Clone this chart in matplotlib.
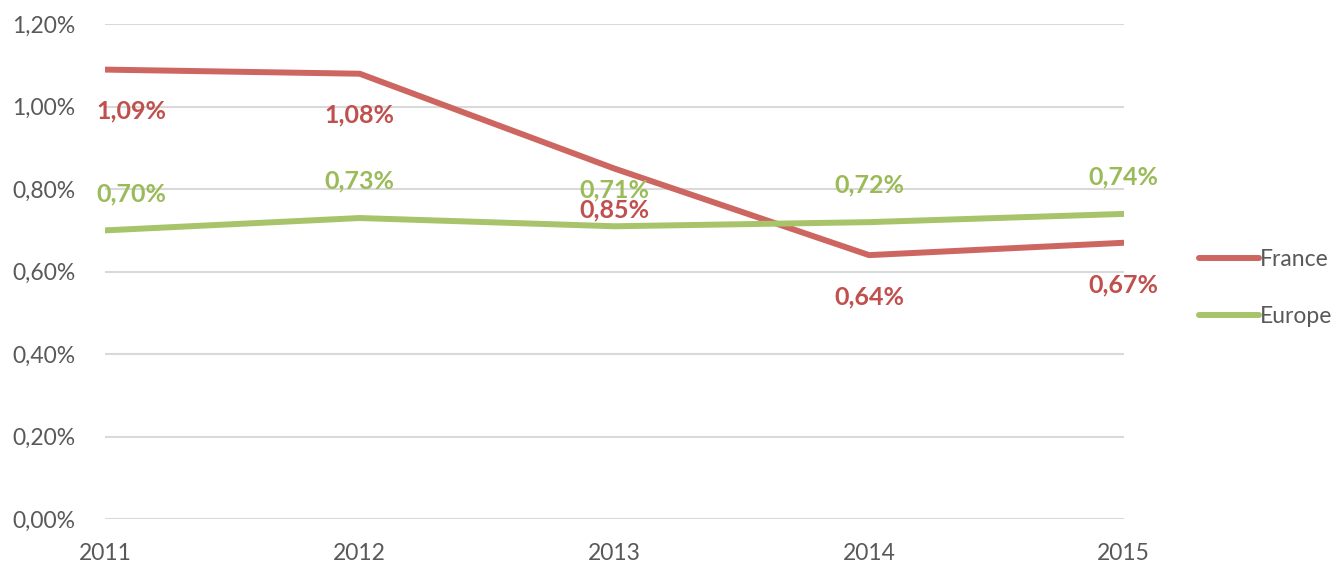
import matplotlib.pyplot as plt
from matplotlib.ticker import FuncFormatter

years = [2011, 2012, 2013, 2014, 2015]
france = [1.09, 1.08, 0.85, 0.64, 0.67]
europe = [0.70, 0.73, 0.71, 0.72, 0.74]
yticks = [0.0, 0.2, 0.4, 0.6, 0.8, 1.0, 1.2]

plt.rcParams["font.family"] = ["Lato", "DejaVu Sans"]
grey = "#595959"
red_line, red_text = "#CD6660", "#C0504D"
green_line, green_text = "#A7C46A", "#9BBB59"

fig = plt.figure(figsize=(13.41, 5.64), dpi=100)
ax = fig.add_axes([0.0783, 0.0798, 0.7597, 0.8772])

ax.plot(years, france, color=red_line, lw=4.3, solid_capstyle="round", label="France")
ax.plot(years, europe, color=green_line, lw=4.3, solid_capstyle="round", label="Europe")

def pct(v):
    return f"{v:.2f}%".replace(".", ",")

for i, (x, f, e) in enumerate(zip(years, france, europe)):
    ha = "left" if i == 0 else "center"
    dx = -6 if i == 0 else 0
    ax.annotate(pct(f), (x, f), xytext=(dx, -30), textcoords="offset points",
                ha=ha, va="center", color=red_text, fontsize=18, fontweight="bold")
    ax.annotate(pct(e), (x, e), xytext=(dx, 26.5), textcoords="offset points",
                ha=ha, va="center", color=green_text, fontsize=18, fontweight="bold")

ax.set_xlim(2011, 2015)
ax.set_ylim(0, 1.2)
ax.set_xticks(years)
ax.set_yticks(yticks)
ax.yaxis.set_major_formatter(FuncFormatter(lambda v, p: pct(v)))
ax.grid(axis="y", color="#D9D9D9", lw=1.5)
ax.set_axisbelow(True)
for s in ax.spines.values():
    s.set_visible(False)
ax.tick_params(length=0, labelsize=16.5, colors=grey)
ax.tick_params(axis="x", pad=17)
ax.tick_params(axis="y", pad=21.5)

leg = ax.legend(loc="center left", bbox_to_anchor=(1.063, 0.467), frameon=False,
                borderpad=0, fontsize=16.5, handlelength=2.6, handletextpad=0.05,
                labelspacing=1.55, labelcolor=grey)

plt.savefig("out.png", dpi=100)
